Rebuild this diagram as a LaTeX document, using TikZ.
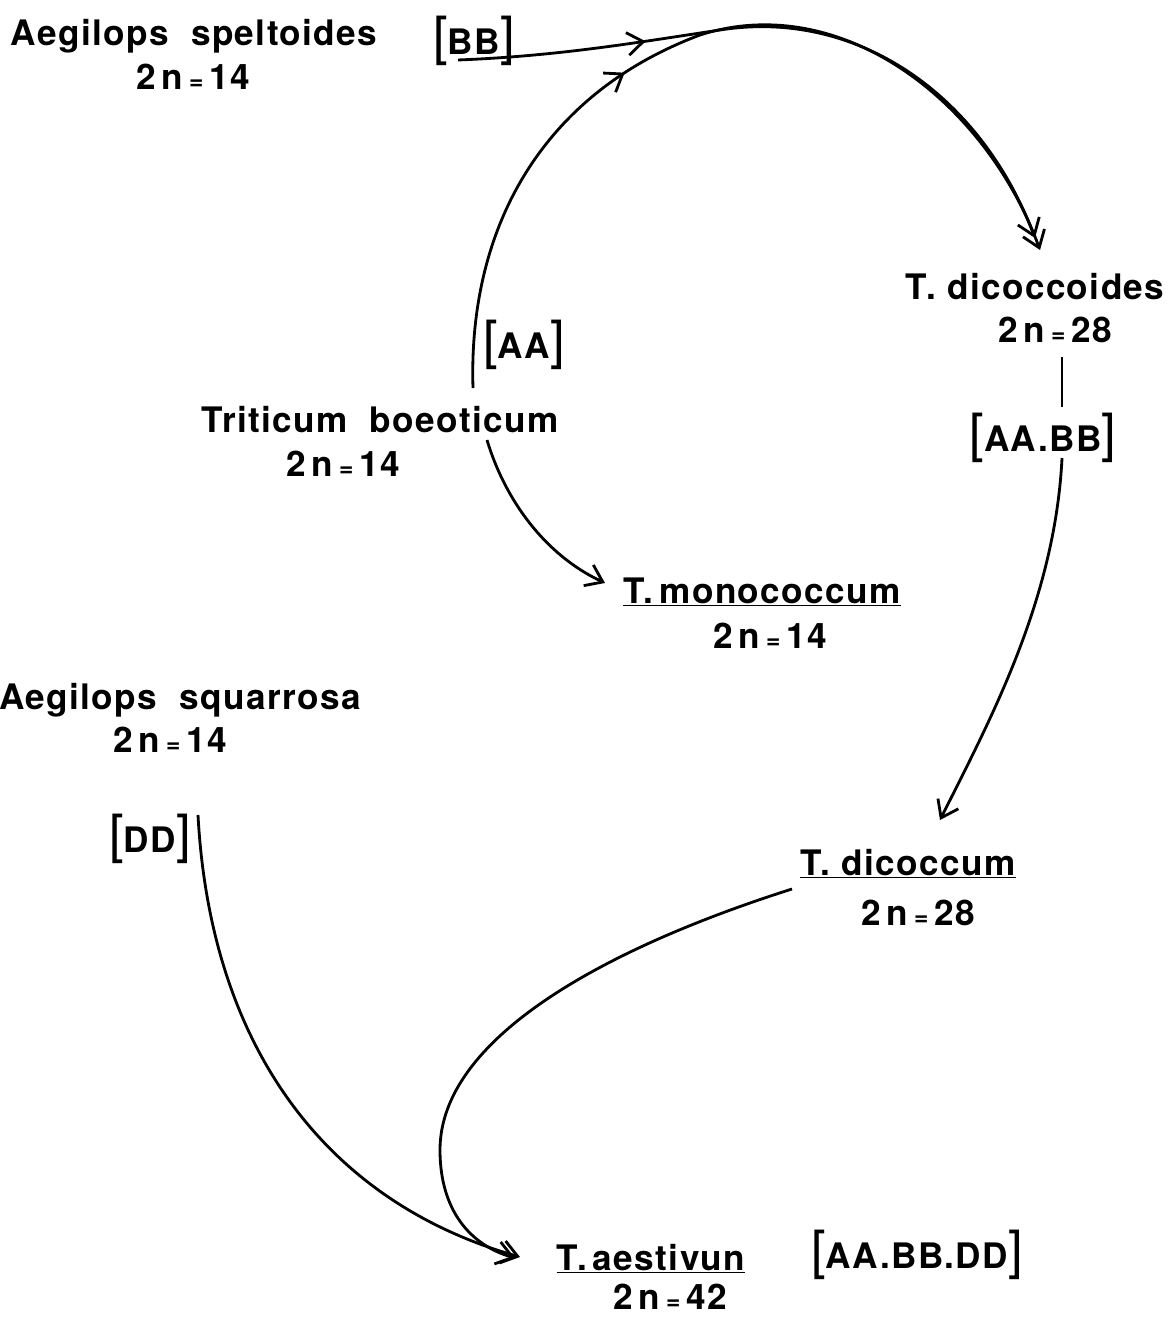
\documentclass[tikz,border=0pt]{standalone}
\usepackage{fontspec}
\setmainfont[LetterSpace=4]{TeX Gyre Heros}
\usetikzlibrary{arrows.meta,calc,decorations.markings}
\newcommand{\genbr}[1]{{\mdseries\fontsize{30}{30}\selectfont[}#1{\mdseries\fontsize{30}{30}\selectfont]}}
\newcommand{\chrom}[1]{2\,n\,{\fontsize{14}{14}\selectfont=}\,#1}
\begin{document}
\begin{tikzpicture}[x=0.02cm,y=-0.02cm,
  species/.style={anchor=base, inner sep=2pt, font=\bfseries\fontsize{20}{24}\selectfont},
  link/.style={line width=1.6pt, -{Straight Barb[length=9pt,width=13pt]}},
  midarrow/.style={postaction={decorate}, decoration={markings,
    mark=at position #1 with {\arrow{Straight Barb[length=9pt,width=13pt]}}}}]
\useasboundingbox (0,0) rectangle (1167,1317);
% diploid species
\node[species] (spel) at (194,46) {Aegilops\ \ speltoides};
\node[species] (spel2n) at (193,90) {\chrom{14}};
\node[species] (bb) at (474,55) {\genbr{BB}};
\node[species] (boe) at (380,432) {Triticum\ \ boeoticum};
\node[species] (boe2n) at (343,476) {\chrom{14}};
\node[species] (aa) at (524,358) {\genbr{AA}};
\node[species] (squ) at (180,709) {Aegilops\ \ squarrosa};
\node[species] (squ2n) at (170,752) {\chrom{14}};
\node[species] (dd) at (150,852) {\genbr{DD}};
% cultivated and derived forms
\node[species] (mono) at (762,603) {\underline{T.\,monococcum}};
\node[species] (mono2n) at (770,648) {\chrom{14}};
\node[species] (dic) at (1035,300) {T.\ dicoccoides};
\node[species] (dic2n) at (1055,343) {\chrom{28}};
\node[species] (aabb) at (1043,451) {\genbr{AA.BB}};
\node[species] (dicum) at (908,875) {\underline{T.\ dicoccum}};
\node[species] (dicum2n) at (918,925) {\chrom{28}};
\node[species] (aest) at (651,1270) {\underline{T.\,aestivun}};
\node[species] (aest2n) at (670,1309) {\chrom{42}};
\node[species] (aabbdd) at (917,1268) {\genbr{AA.BB.DD}};
% connectors
\draw[link, midarrow=0.41] ($(boe.base)+(93,-44)$) .. controls (468,230) and (540,95) .. (700,35)
  .. controls (840,-10) and (985,100) .. ($(dic.base)+(5,-50)$);
\draw[link, midarrow=0.28] ($(bb.base)+(-16,5)$) .. controls (560,56) and (640,42) .. (720,30)
  .. controls (860,8) and (982,98) .. ($(dic.base)+(0,-62)$);
\draw[link] ($(boe.base)+(107,8)$) .. controls (505,500) and (545,555) .. ($(mono.base)+(-157,-20)$);
\draw[line width=1.6pt] ($(dic2n.base)+(7,14)$) -- ($(aabb.base)+(19,-44)$);
\draw[link] ($(aabb.base)+(19,7)$) .. controls (1055,600) and (990,720) .. ($(dicum.base)+(32,-55)$);
\draw[link] ($(dd.base)+(48,-37)$) .. controls (210,1040) and (320,1200) .. ($(aest.base)+(-131,-13)$);
\draw[link] ($(dicum.base)+(-116,14)$) .. controls (600,950) and (440,1040) .. (440,1150)
  .. controls (440,1210) and (470,1245) .. ($(aest.base)+(-136,-12)$);
\end{tikzpicture}
\end{document}
